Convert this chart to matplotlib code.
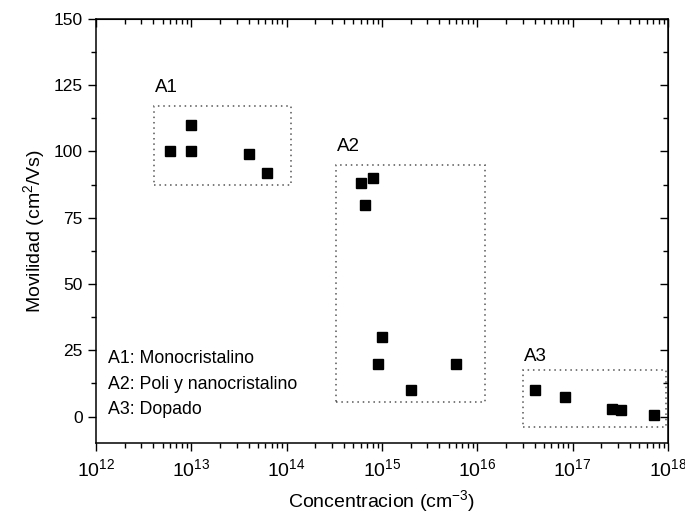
import matplotlib.pyplot as plt
from matplotlib.patches import Rectangle
from matplotlib.ticker import FixedLocator, MultipleLocator, NullFormatter

plt.rcParams['font.family'] = ['Liberation Sans', 'DejaVu Sans']
plt.rcParams['mathtext.fontset'] = 'custom'
plt.rcParams['mathtext.rm'] = 'Liberation Sans'
plt.rcParams['mathtext.it'] = 'Liberation Sans:italic'
plt.rcParams['mathtext.bf'] = 'Liberation Sans:bold'

# A1: monocristalino
conc_a1 = [6e12, 1e13, 1e13, 4e13, 6.3e13]
mov_a1 = [100, 110, 100, 99, 92]
# A2: poli y nanocristalino
conc_a2 = [6e14, 8.1e14, 6.6e14, 1e15, 9e14, 2e15, 6e15]
mov_a2 = [88, 90, 80, 30, 20, 10, 20]
# A3: dopado
conc_a3 = [4e16, 8.3e16, 2.6e17, 3.2e17, 7.2e17]
mov_a3 = [10, 7.5, 3, 2.6, 0.5]

# (x0, x1, y0, y1) de cada zona
zonas = {
    'A1': (4.1e12, 1.1e14, 87.5, 117),
    'A2': (3.3e14, 1.2e16, 5.6, 95),
    'A3': (3e16, 9.6e17, -3.8, 17.7),
}
etiquetas = {'A1': (4.2e12, 122.5), 'A2': (3.4e14, 100), 'A3': (3.1e16, 21)}

leyenda = ['A1: Monocristalino', 'A2: Poli y nanocristalino', 'A3: Dopado']

exponentes = [12, 13, 14, 15, 16, 17, 18]
xticks = [10.0 ** e for e in exponentes]
xticklabels = ['$10^{%d}$' % e for e in exponentes]
xminor = [m * 10.0 ** e for e in exponentes[:-1] for m in range(2, 10)]
yticks = [0, 25, 50, 75, 100, 125, 150]
yminor = [-12.5 + 12.5 * k for k in range(1, 14) if (12.5 * k - 12.5) % 25 != 0]

fig = plt.figure(figsize=(6.85, 5.2), dpi=100)
ax = fig.add_axes([0.140, 0.148, 0.835, 0.8155])

for xs, ys in [(conc_a1, mov_a1), (conc_a2, mov_a2), (conc_a3, mov_a3)]:
    ax.plot(xs, ys, 's', color='black', markersize=7, linestyle='none')

for nombre, (x0, x1, y0, y1) in zonas.items():
    ax.add_patch(Rectangle((x0, y0), x1 - x0, y1 - y0, fill=False,
                           linestyle=(0, (1, 2.5)), linewidth=1.1, edgecolor='#555555'))
    tx, ty = etiquetas[nombre]
    ax.text(tx, ty, nombre, fontsize=13.5, ha='left', va='baseline')

for i, t in enumerate(leyenda):
    ax.text(0.021, 0.200 - i * 0.061, t, transform=ax.transAxes, fontsize=12.8, va='center')

ax.set_xscale('log')
ax.set_xlim(1e12, 1e18)
ax.set_ylim(-10, 150)
ax.set_xticks(xticks)
ax.set_xticklabels(xticklabels)
ax.xaxis.set_minor_locator(FixedLocator(xminor))
ax.xaxis.set_minor_formatter(NullFormatter())
ax.set_yticks(yticks)
ax.yaxis.set_minor_locator(FixedLocator(yminor))

ax.tick_params(which='both', direction='out', width=1)
ax.tick_params(axis='y', labelsize=12.5)
ax.tick_params(axis='x', labelsize=14, pad=5)
ax.tick_params(which='major', length=6)
ax.tick_params(which='minor', length=3.5)
for s in ax.spines.values():
    s.set_linewidth(1.1)

# ejes superior y derecho con marcas hacia dentro
top = ax.secondary_xaxis('top')
top.set_xticks(xticks)
top.xaxis.set_major_formatter(NullFormatter())
top.xaxis.set_minor_locator(FixedLocator(xminor))
top.xaxis.set_minor_formatter(NullFormatter())
top.tick_params(which='both', direction='in', labeltop=False, width=1)
top.tick_params(which='major', length=6)
top.tick_params(which='minor', length=3.5)

right = ax.secondary_yaxis('right')
right.set_yticks(yticks)
right.yaxis.set_major_formatter(NullFormatter())
right.yaxis.set_minor_locator(FixedLocator(yminor))
right.tick_params(which='both', direction='in', labelright=False, width=1)
right.tick_params(which='major', length=6)
right.tick_params(which='minor', length=3.5)

ax.set_xlabel('Concentracion (cm$^{-3}$)', fontsize=14, labelpad=6)
ax.set_ylabel('Movilidad (cm$^{2}$/Vs)', fontsize=14, labelpad=5)

plt.savefig('out.png', dpi=100)
